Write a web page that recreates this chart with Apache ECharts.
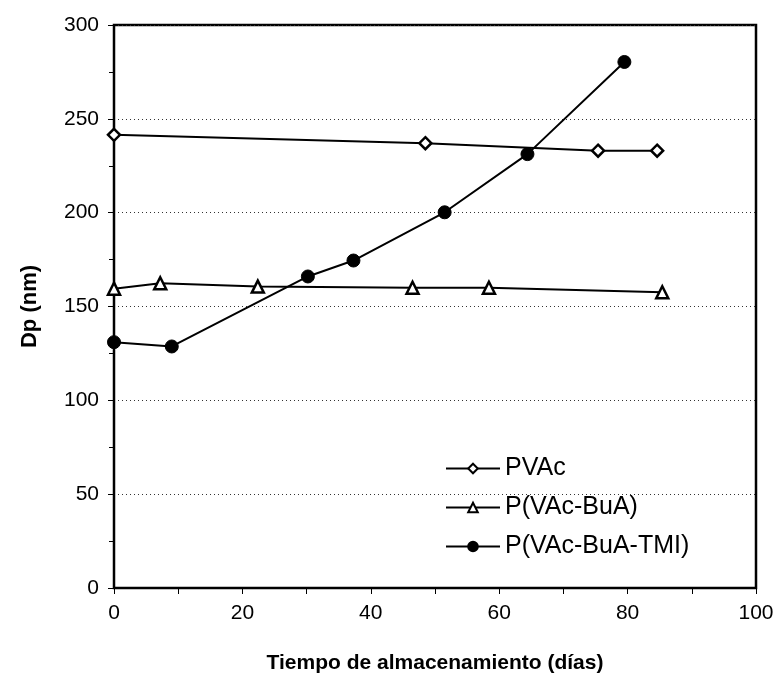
<!DOCTYPE html>
<html>
<head>
<meta charset="utf-8">
<script src="https://cdn.jsdelivr.net/npm/echarts@6/dist/echarts.min.js"></script>
<style>html,body{margin:0;padding:0;background:#fff}#c{width:779px;height:683px}</style>
</head>
<body>
<div id="c"></div>
<script>
const pvacX = [0, 48.5, 75.4, 84.6];
const pvacY = [241.5, 237, 233, 233];
const buaX = [0, 7.2, 22.4, 46.5, 58.4, 85.4];
const buaY = [159.5, 162.4, 160.6, 160, 160, 157.6];
const tmiX = [0, 9, 30.2, 37.3, 51.5, 64.4, 79.5];
const tmiY = [131, 128.7, 166, 174.5, 200.2, 231.2, 280.3];
const seriesNames = ['PVAc', 'P(VAc-BuA)', 'P(VAc-BuA-TMI)'];
const xTitle = 'Tiempo de almacenamiento (días)';
const yTitle = 'Dp (nm)';

const zip = (xs, ys) => xs.map((x, i) => [x, ys[i]]);
const font = 'Liberation Sans, Arial, sans-serif';

const chart = echarts.init(document.getElementById('c'), null, {renderer: 'canvas'});
chart.setOption({
  animation: false,
  backgroundColor: '#fff',
  grid: {left: 114, right: 23, top: 25, bottom: 95, show: true, borderColor: '#000', borderWidth: 2.5, backgroundColor: 'transparent'},
  legend: {
    orient: 'vertical', left: 440, top: 451, itemWidth: 54, itemHeight: 12, itemGap: 14,
    data: seriesNames,
    textStyle: {fontFamily: font, fontSize: 25, color: '#000'}
  },
  xAxis: {
    type: 'value', min: 0, max: 100, interval: 10,
    name: xTitle, nameLocation: 'middle', nameGap: 65,
    nameTextStyle: {fontFamily: font, fontSize: 21, fontWeight: 'bold', color: '#000'},
    axisLine: {lineStyle: {color: '#000', width: 2}},
    axisTick: {show: true, inside: false, length: 6, lineStyle: {color: '#000', width: 1}},
    axisLabel: {margin: 15, fontFamily: font, fontSize: 21, color: '#000',
      formatter: v => (v % 20 === 0 ? String(v) : '')},
    splitLine: {show: false}
  },
  yAxis: {
    type: 'value', min: 0, max: 300, interval: 50,
    name: yTitle, nameLocation: 'middle', nameGap: 73, nameRotate: 90,
    nameTextStyle: {fontFamily: font, fontSize: 22, fontWeight: 'bold', color: '#000'},
    axisLine: {lineStyle: {color: '#000', width: 2}},
    axisTick: {show: true, inside: false, length: 6, lineStyle: {color: '#000', width: 1}},
    minorTick: {show: true, splitNumber: 2, length: 5, lineStyle: {color: '#000', width: 1}},
    axisLabel: {margin: 15, fontFamily: font, fontSize: 21, color: '#000'},
    splitLine: {show: true, lineStyle: {color: '#333', type: [1, 3], width: 1}}
  },
  series: [
    {name: seriesNames[0], type: 'line', data: zip(pvacX, pvacY), symbol: 'diamond', symbolSize: 12,
     lineStyle: {color: '#000', width: 2}, itemStyle: {color: '#fff', borderColor: '#000', borderWidth: 2.5}},
    {name: seriesNames[1], type: 'line', data: zip(buaX, buaY), symbol: 'triangle', symbolSize: 12,
     lineStyle: {color: '#000', width: 2}, itemStyle: {color: '#fff', borderColor: '#000', borderWidth: 2.5}},
    {name: seriesNames[2], type: 'line', data: zip(tmiX, tmiY), symbol: 'circle', symbolSize: 13,
     lineStyle: {color: '#000', width: 2}, itemStyle: {color: '#000', borderColor: '#000', borderWidth: 1}}
  ]
});
</script>
</body>
</html>
